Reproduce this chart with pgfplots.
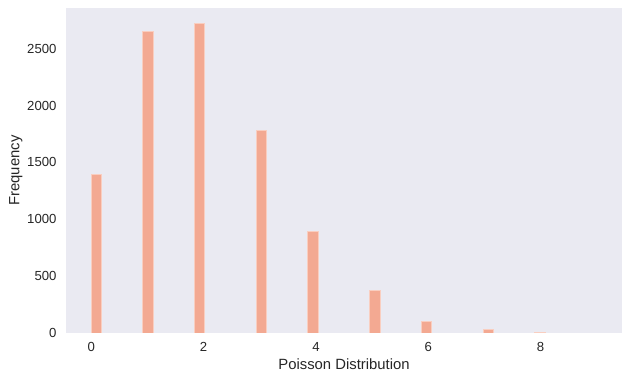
\documentclass[border=0pt]{standalone}
\usepackage{pgfplots}
\pgfplotsset{compat=1.18}
\usepackage{fontspec}
\setmainfont{Liberation Sans}
\definecolor{bgc}{RGB}{234,234,242}
\definecolor{barc}{RGB}{243,169,146}
\definecolor{bare}{RGB}{249,206,192}
\definecolor{txt}{RGB}{38,38,38}
\begin{document}
\begin{tikzpicture}
\path[use as bounding box] (-66bp,-47bp) rectangle (564bp,333bp);
\begin{axis}[
  at={(0,0)}, anchor=south west,
  scale only axis, width=556bp, height=325bp,
  xmin=-0.45, xmax=9.45, ymin=0, ymax=2858,
  axis background/.style={fill=bgc},
  axis line style={draw=none},
  major tick length=0pt,
  xtick={0,2,4,6,8},
  ytick={0,500,1000,1500,2000,2500},
  tick label style={font=\fontsize{13.2}{15}\selectfont, text=txt},
  /pgf/number format/assume math mode=true,
  /pgf/number format/1000 sep={},
  yticklabel style={xshift=-6bp},
  xticklabel style={yshift=-6bp},
  xlabel={Poisson Distribution}, ylabel={Frequency},
  label style={font=\fontsize{14.9}{17}\selectfont, text=txt},
  xlabel style={yshift=0bp},
  ylabel style={yshift=-2bp},
  scaled y ticks=false,
  clip=true,
]
\addplot[ybar, bar width=0.1837, fill=barc, draw=bare, line width=0.8bp, bar shift=0pt]
coordinates {
(0.0918,1395)
(1.0102,2651)
(1.9286,2722)
(3.0306,1781)
(3.9490,893)
(5.0510,375)
(5.9694,102)
(7.0714,29)
(7.9898,8)
};
\end{axis}
\end{tikzpicture}
\end{document}
